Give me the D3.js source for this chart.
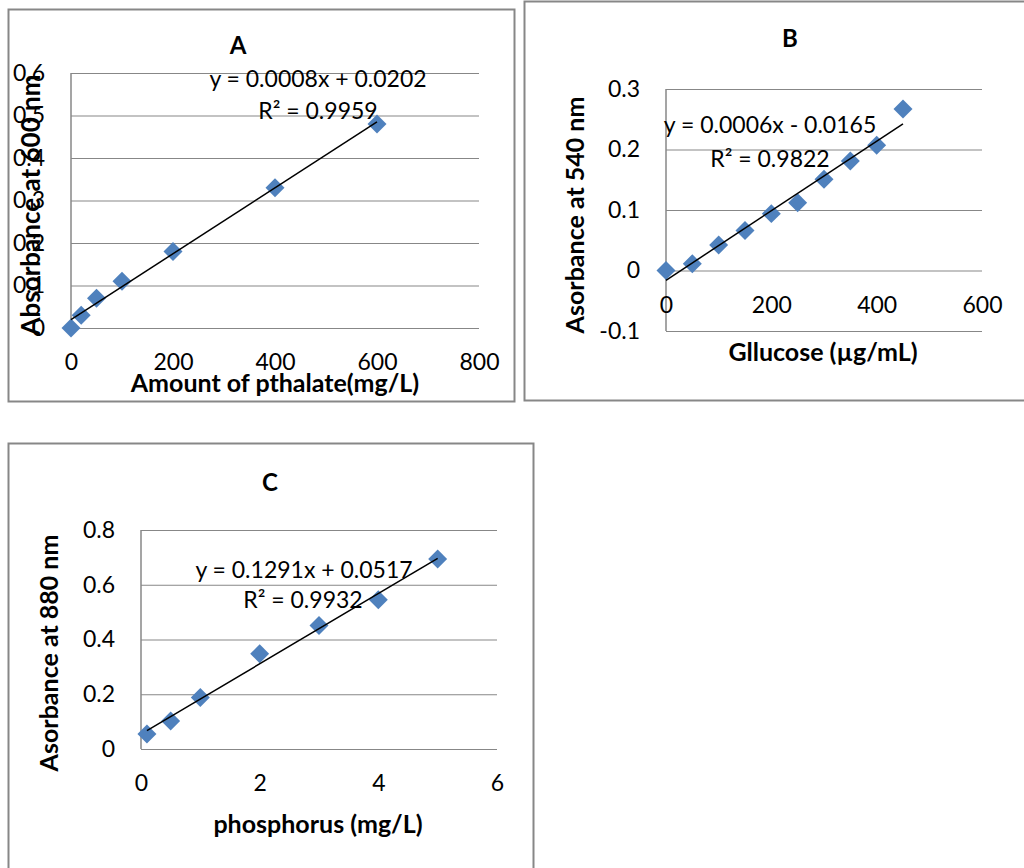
<!DOCTYPE html>
<html>
<head>
<meta charset="utf-8">
<script src="https://cdn.jsdelivr.net/npm/d3@7"></script>
<style>
  body { margin: 0; background: #fff; }
  svg { display: block; }
</style>
</head>
<body>
<script>
// --- data ---
const aX = [0, 20, 50, 100, 200, 400, 600];
const aY = [0, 0.03, 0.07, 0.11, 0.18, 0.33, 0.48];
const aXTicks = [0, 200, 400, 600, 800];
const aXTickLabels = ["0", "200", "400", "600", "800"];
const aYTicks = [0, 0.1, 0.2, 0.3, 0.4, 0.5, 0.6];
const aYTickLabels = ["0", "0.1", "0.2", "0.3", "0.4", "0.5", "0.6"];
const aEquation = ["y = 0.0008x + 0.0202", "R² = 0.9959"];

const bX = [0, 50, 100, 150, 200, 250, 300, 350, 400, 450];
const bY = [0, 0.011, 0.042, 0.066, 0.094, 0.112, 0.151, 0.181, 0.207, 0.267];
const bXTicks = [0, 200, 400, 600];
const bXTickLabels = ["0", "200", "400", "600"];
const bYTicks = [-0.1, 0, 0.1, 0.2, 0.3];
const bYTickLabels = ["-0.1", "0", "0.1", "0.2", "0.3"];
const bEquation = ["y = 0.0006x - 0.0165", "R² = 0.9822"];

const cX = [0.1, 0.5, 1, 2, 3, 4, 5];
const cY = [0.055, 0.102, 0.188, 0.348, 0.451, 0.545, 0.694];
const cXTicks = [0, 2, 4, 6];
const cXTickLabels = ["0", "2", "4", "6"];
const cYTicks = [0, 0.2, 0.4, 0.6, 0.8];
const cYTickLabels = ["0", "0.2", "0.4", "0.6", "0.8"];
const cEquation = ["y = 0.1291x + 0.0517", "R² = 0.9932"];

const titles = ["A", "B", "C"];
const xTitles = ["Amount of pthalate(mg/L)", "Gllucose (µg/mL)", "phosphorus (mg/L)"];
const yTitles = ["Absorbance at 600 nm", "Asorbance at 540 nm", "Asorbance at 880 nm"];

const FONT = "Lato, 'Liberation Sans', sans-serif";
const BLUE = "#4F81BD";
const GRID = "#878787";

let svg = d3.select("body").append("svg").attr("width", 1024).attr("height", 868)
  .style("font-family", FONT);

// least squares line through the points
function fit(xs, ys) {
  let mx = d3.mean(xs), my = d3.mean(ys);
  let sxy = d3.sum(xs, (x, i) => (x - mx) * (ys[i] - my));
  let sxx = d3.sum(xs, x => (x - mx) * (x - mx));
  let m = sxy / sxx;
  return { m: m, b: my - m * mx };
}

function panel(p) {
  let g = svg.append("g");

  g.append("rect")
    .attr("x", p.box[0]).attr("y", p.box[1])
    .attr("width", p.box[2]).attr("height", p.box[3])
    .attr("fill", "none").attr("stroke", GRID).attr("stroke-width", 2);

  let x = d3.scaleLinear().domain(p.xDomain).range([p.left, p.right]);
  let y = d3.scaleLinear().domain(p.yDomain).range([p.bottom, p.top]);

  // gridlines + y tick labels
  let yAxis = g.append("g")
    .attr("transform", "translate(" + p.left + ",0)")
    .call(d3.axisLeft(y).tickValues(p.yTicks)
      .tickFormat((d, i) => p.yLabels[i])
      .tickSize(-(p.right - p.left)).tickPadding(26));
  yAxis.select(".domain").remove();
  yAxis.selectAll("line").attr("stroke", GRID).attr("stroke-width", 1.2);
  yAxis.selectAll("text")
    .attr("font-family", FONT).attr("font-size", 23).attr("fill", "#000");

  // vertical axis line
  g.append("line")
    .attr("x1", p.left).attr("x2", p.left)
    .attr("y1", p.top).attr("y2", p.bottom)
    .attr("stroke", GRID).attr("stroke-width", 1.5);

  // x tick labels sit under the zero line
  let xAxis = g.append("g")
    .attr("transform", "translate(0," + y(0) + ")")
    .call(d3.axisBottom(x).tickValues(p.xTicks)
      .tickFormat((d, i) => p.xLabels[i]).tickSize(0));
  xAxis.select(".domain").remove();
  xAxis.selectAll("text")
    .attr("y", 42).attr("dy", null)
    .attr("font-family", FONT).attr("font-size", 23).attr("fill", "#000");

  // markers
  g.selectAll(".pt").data(p.xs.map((d, i) => [d, p.ys[i]]))
    .enter().append("path")
    .attr("class", "pt")
    .attr("d", d3.symbol().type(d3.symbolSquare).size(180))
    .attr("transform", d => "translate(" + x(d[0]) + "," + y(d[1]) + ") rotate(45)")
    .attr("fill", BLUE);

  // linear trendline
  let f = fit(p.xs, p.ys);
  let x0 = d3.min(p.xs), x1 = d3.max(p.xs);
  g.append("line")
    .attr("x1", x(x0)).attr("y1", y(f.m * x0 + f.b))
    .attr("x2", x(x1)).attr("y2", y(f.m * x1 + f.b))
    .attr("stroke", "#000").attr("stroke-width", 1.5);

  // equation + r squared
  g.selectAll(".eq").data(p.eq).enter().append("text")
    .attr("x", (d, i) => p.eqPos[i][0]).attr("y", (d, i) => p.eqPos[i][1])
    .attr("text-anchor", "middle").attr("font-size", 23)
    .text(d => d);

  g.append("text")
    .attr("x", p.titlePos[0]).attr("y", p.titlePos[1])
    .attr("text-anchor", "middle").attr("font-weight", "bold").attr("font-size", 24)
    .text(p.title);

  g.append("text")
    .attr("x", p.xTitlePos[0]).attr("y", p.xTitlePos[1])
    .attr("text-anchor", "middle").attr("font-weight", "bold").attr("font-size", 25)
    .text(p.xTitle);

  g.append("text")
    .attr("transform", "translate(" + p.yTitlePos[0] + "," + p.yTitlePos[1] + ") rotate(-90)")
    .attr("text-anchor", "middle").attr("font-weight", "bold").attr("font-size", p.yTitleSize)
    .text(p.yTitle);
}

panel({
  box: [8.5, 9.5, 506, 392],
  left: 71, right: 479, top: 73, bottom: 328,
  xDomain: [0, 800], yDomain: [0, 0.6],
  xTicks: aXTicks, xLabels: aXTickLabels, yTicks: aYTicks, yLabels: aYTickLabels,
  xs: aX, ys: aY, eq: aEquation, eqPos: [[318, 87], [318, 119]],
  title: titles[0], titlePos: [238, 54],
  xTitle: xTitles[0], xTitlePos: [275, 392],
  yTitle: yTitles[0], yTitlePos: [40, 205], yTitleSize: 26
});

panel({
  box: [524.5, 1.5, 510, 399],
  left: 666, right: 982, top: 89, bottom: 331,
  xDomain: [0, 600], yDomain: [-0.1, 0.3],
  xTicks: bXTicks, xLabels: bXTickLabels, yTicks: bYTicks, yLabels: bYTickLabels,
  xs: bX, ys: bY, eq: bEquation, eqPos: [[770, 133], [770, 167]],
  title: titles[1], titlePos: [790, 47],
  xTitle: xTitles[1], xTitlePos: [823, 361],
  yTitle: yTitles[1], yTitlePos: [584, 215], yTitleSize: 25
});

panel({
  box: [8.5, 443.5, 525, 440],
  left: 141, right: 497, top: 530, bottom: 749,
  xDomain: [0, 6], yDomain: [0, 0.8],
  xTicks: cXTicks, xLabels: cXTickLabels, yTicks: cYTicks, yLabels: cYTickLabels,
  xs: cX, ys: cY, eq: cEquation, eqPos: [[304, 578], [303, 608]],
  title: titles[2], titlePos: [270, 491],
  xTitle: xTitles[2], xTitlePos: [318, 833],
  yTitle: yTitles[2], yTitlePos: [58, 653], yTitleSize: 25
});
</script>
</body>
</html>
